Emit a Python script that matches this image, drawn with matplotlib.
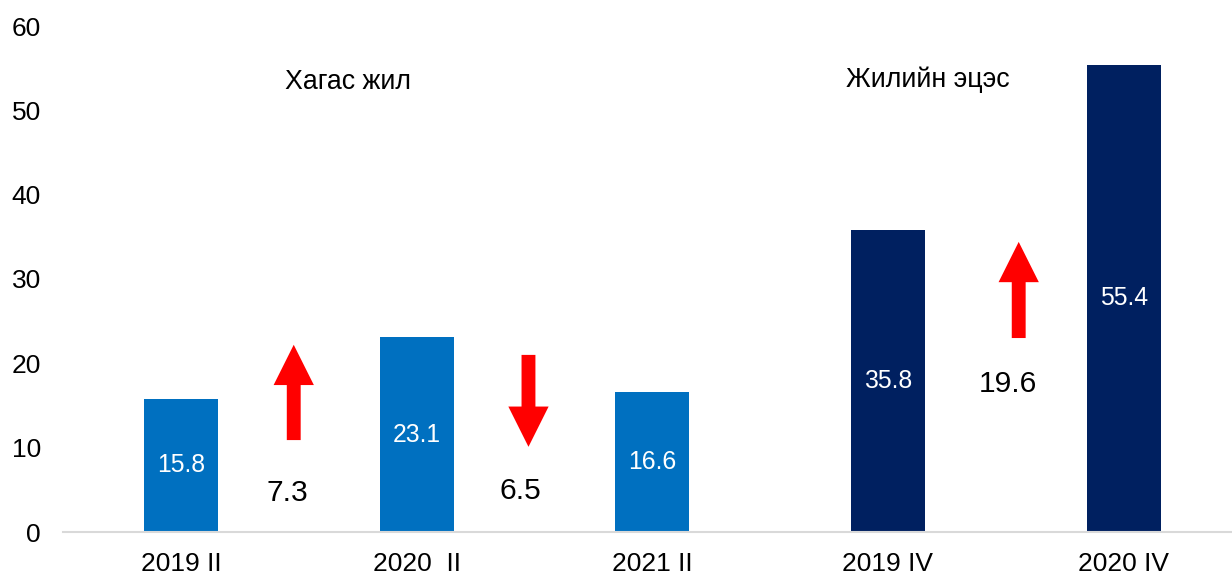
import matplotlib
matplotlib.use("Agg")
import matplotlib.pyplot as plt

plt.rcParams['font.family'] = ['Liberation Sans', 'DejaVu Sans']

categories = ["2019 II", "2020  II", "2021 II", "2019 IV", "2020 IV"]
values = [15.8, 23.1, 16.6, 35.8, 55.4]
bar_colors = ["#0070C0", "#0070C0", "#0070C0", "#002060", "#002060"]
changes = ["7.3", "6.5", "19.6"]
group_titles = ["Хагас жил", "Жилийн эцэс"]
yticks = [0, 10, 20, 30, 40, 50, 60]

fig = plt.figure(figsize=(12.32, 5.77), dpi=100)
ax = fig.add_axes([63/1232, 45/577, 1 - 63/1232, 506/577])

x = list(range(len(categories)))
bars = ax.bar(x, values, width=0.314, color=bar_colors, zorder=2)
for xi, v in zip(x, values):
    ax.text(xi, v / 2, f"{v}", ha="center", va="center", color="white", fontsize=17.8)

ax.set_xlim(-0.5, 4.46)
ax.set_ylim(0, 60)
ax.set_yticks(yticks)
ax.set_yticklabels([str(t) for t in yticks], fontsize=19)
ax.set_xticks(x)
ax.set_xticklabels(categories, fontsize=19)
ax.tick_params(axis="y", length=0, pad=16)
ax.tick_params(axis="x", length=0, pad=14.5)
for s in ["top", "right", "left"]:
    ax.spines[s].set_visible(False)
ax.spines["bottom"].set_color("#D9D9D9")
ax.spines["bottom"].set_linewidth(1.5)

# arrows (decorative), positioned between the bars
arrow_style = "simple,head_width=29,head_length=29,tail_width=10"
arrows = [((0.479, 10.9), (0.479, 22.2)),
          ((1.475, 21.0), (1.475, 10.1)),
          ((3.555, 23.0), (3.555, 34.4))]
for start, end in arrows:
    ax.annotate("", xy=end, xytext=start,
                arrowprops=dict(arrowstyle=arrow_style, color="#FF0000",
                                shrinkA=0, shrinkB=0, mutation_scale=1, lw=0))

change_pos = [(0.45, 4.6), (1.44, 4.9), (3.51, 17.6)]
for (cx, cy), t in zip(change_pos, changes):
    ax.text(cx, cy, t, ha="center", va="center", fontsize=21.6, color="black")

ax.text(0.71, 53.4, group_titles[0], ha="center", va="center", fontsize=19.3)
ax.text(3.17, 53.6, group_titles[1], ha="center", va="center", fontsize=19.3)

fig.savefig("out.png", dpi=100)
